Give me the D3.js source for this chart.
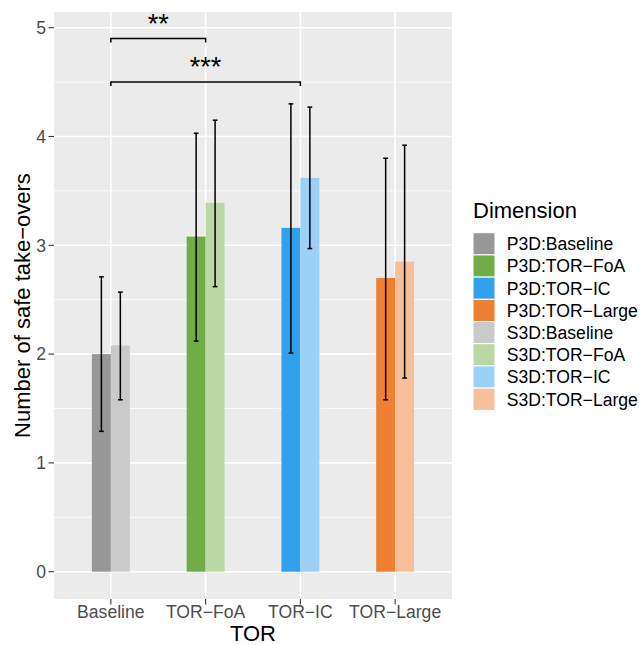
<!DOCTYPE html>
<html>
<head>
<meta charset="utf-8">
<script src="https://cdn.jsdelivr.net/npm/d3@7"></script>
<style>
  body { margin: 0; background: #fff; }
  text { font-family: "Liberation Sans", Arial, sans-serif; }
</style>
</head>
<body>
<script>
// ---- data ----
var categories = ["Baseline", "TOR\u2212FoA", "TOR\u2212IC", "TOR\u2212Large"];
var p3dMean = [2.00, 3.08, 3.16, 2.70];
var p3dLow  = [1.29, 2.12, 2.01, 1.58];
var p3dHigh = [2.71, 4.03, 4.30, 3.80];
var s3dMean = [2.08, 3.39, 3.62, 2.85];
var s3dLow  = [1.58, 2.62, 2.97, 1.78];
var s3dHigh = [2.57, 4.15, 4.27, 3.92];
var p3dColors = ["#979797", "#70ad47", "#31a1ed", "#ef7f33"];
var s3dColors = ["#cacaca", "#bad8a5", "#9bd0f7", "#f7bf99"];
var yTicks = [0, 1, 2, 3, 4, 5];
var brackets = [
  { from: 0, to: 1, y: 4.90, label: "**" },
  { from: 0, to: 2, y: 4.50, label: "***" }
];

var W = 641, H = 645;
var panel = { left: 54, right: 452, top: 12, bottom: 599 };

var svg = d3.select("body").append("svg")
  .attr("width", W)
  .attr("height", H);

var x = d3.scalePoint()
  .domain(categories)
  .range([panel.left, panel.right])
  .padding(0.6);
var step = x.step();

var y = d3.scaleLinear()
  .domain([0, 5])
  .range([571.7, 27.7]);

// panel background
svg.append("rect")
  .attr("x", panel.left).attr("y", panel.top)
  .attr("width", panel.right - panel.left)
  .attr("height", panel.bottom - panel.top)
  .attr("fill", "#ebebeb");

// minor grid
svg.selectAll(".minor")
  .data([0.5, 1.5, 2.5, 3.5, 4.5])
  .enter().append("line")
  .attr("x1", panel.left).attr("x2", panel.right)
  .attr("y1", function(d) { return y(d); })
  .attr("y2", function(d) { return y(d); })
  .attr("stroke", "#fff").attr("stroke-width", 0.8);

// major grid
svg.selectAll(".hmajor")
  .data(yTicks)
  .enter().append("line")
  .attr("x1", panel.left).attr("x2", panel.right)
  .attr("y1", function(d) { return y(d); })
  .attr("y2", function(d) { return y(d); })
  .attr("stroke", "#fff").attr("stroke-width", 1.6);

svg.selectAll(".vmajor")
  .data(categories)
  .enter().append("line")
  .attr("x1", function(d) { return x(d); })
  .attr("x2", function(d) { return x(d); })
  .attr("y1", panel.top).attr("y2", panel.bottom)
  .attr("stroke", "#fff").attr("stroke-width", 1.6);

// bars: build rows from the arrays
var rows = [];
categories.forEach(function(c, i) {
  rows.push({ cat: c, off: -0.1, mean: p3dMean[i], lo: p3dLow[i], hi: p3dHigh[i], color: p3dColors[i] });
  rows.push({ cat: c, off: 0.1, mean: s3dMean[i], lo: s3dLow[i], hi: s3dHigh[i], color: s3dColors[i] });
});

svg.selectAll(".bar")
  .data(rows)
  .enter().append("rect")
  .attr("x", function(d) { return x(d.cat) + (d.off - 0.1) * step; })
  .attr("width", 0.2 * step)
  .attr("y", function(d) { return y(d.mean); })
  .attr("height", function(d) { return y(0) - y(d.mean); })
  .attr("fill", function(d) { return d.color; });

// error bars
var capW = 0.05 * step;
var err = svg.selectAll(".err")
  .data(rows)
  .enter().append("g")
  .attr("stroke", "#000")
  .attr("stroke-width", 1.5);

err.append("line")
  .attr("x1", function(d) { return x(d.cat) + d.off * step; })
  .attr("x2", function(d) { return x(d.cat) + d.off * step; })
  .attr("y1", function(d) { return y(d.lo); })
  .attr("y2", function(d) { return y(d.hi); });
err.append("line")
  .attr("x1", function(d) { return x(d.cat) + d.off * step - capW / 2; })
  .attr("x2", function(d) { return x(d.cat) + d.off * step + capW / 2; })
  .attr("y1", function(d) { return y(d.hi); })
  .attr("y2", function(d) { return y(d.hi); });
err.append("line")
  .attr("x1", function(d) { return x(d.cat) + d.off * step - capW / 2; })
  .attr("x2", function(d) { return x(d.cat) + d.off * step + capW / 2; })
  .attr("y1", function(d) { return y(d.lo); })
  .attr("y2", function(d) { return y(d.lo); });

// significance brackets
var br = svg.selectAll(".bracket")
  .data(brackets)
  .enter().append("g");

br.append("path")
  .attr("d", function(d) {
    var x1 = x(categories[d.from]), x2 = x(categories[d.to]), yy = y(d.y);
    return "M" + x1 + "," + (yy + 4) + "V" + yy + "H" + x2 + "V" + (yy + 4);
  })
  .attr("fill", "none")
  .attr("stroke", "#000")
  .attr("stroke-width", 1.5);

br.append("text")
  .attr("x", function(d) { return (x(categories[d.from]) + x(categories[d.to])) / 2; })
  .attr("y", function(d) { return y(d.y) - 6; })
  .attr("text-anchor", "middle")
  .attr("font-size", 27)
  .attr("fill", "#000")
  .text(function(d) { return d.label; });

// y axis
var yAxis = svg.append("g");
yAxis.selectAll("line")
  .data(yTicks)
  .enter().append("line")
  .attr("x1", panel.left - 5.5).attr("x2", panel.left)
  .attr("y1", function(d) { return y(d); })
  .attr("y2", function(d) { return y(d); })
  .attr("stroke", "#333").attr("stroke-width", 1.1);
yAxis.selectAll("text")
  .data(yTicks)
  .enter().append("text")
  .attr("x", panel.left - 8)
  .attr("y", function(d) { return y(d); })
  .attr("dy", "0.36em")
  .attr("text-anchor", "end")
  .attr("font-size", 17.6)
  .attr("fill", "#4d4d4d")
  .text(function(d) { return d; });

// x axis
var xAxis = svg.append("g");
xAxis.selectAll("line")
  .data(categories)
  .enter().append("line")
  .attr("x1", function(d) { return x(d); })
  .attr("x2", function(d) { return x(d); })
  .attr("y1", panel.bottom).attr("y2", panel.bottom + 5.5)
  .attr("stroke", "#333").attr("stroke-width", 1.1);
xAxis.selectAll("text")
  .data(categories)
  .enter().append("text")
  .attr("x", function(d) { return x(d); })
  .attr("y", 618)
  .attr("text-anchor", "middle")
  .attr("font-size", 17.6)
  .attr("fill", "#4d4d4d")
  .text(function(d) { return d; });

// axis titles
svg.append("text")
  .attr("x", (panel.left + panel.right) / 2)
  .attr("y", 641)
  .attr("text-anchor", "middle")
  .attr("font-size", 22)
  .text("TOR");

svg.append("text")
  .attr("transform", "translate(30," + ((panel.top + panel.bottom) / 2) + ") rotate(-90)")
  .attr("text-anchor", "middle")
  .attr("font-size", 22)
  .text("Number of safe take\u2212overs");

// legend
var legendLabels = [];
var legendColors = [];
["P3D", "S3D"].forEach(function(g, gi) {
  categories.forEach(function(c, i) {
    legendLabels.push(g + ":" + c);
    legendColors.push(gi === 0 ? p3dColors[i] : s3dColors[i]);
  });
});

var legend = svg.append("g").attr("transform", "translate(473,0)");
legend.append("text")
  .attr("x", 0).attr("y", 218)
  .attr("font-size", 22)
  .text("Dimension");

var keyH = 22.2, keyTop = 232.7;
var items = legend.selectAll(".item")
  .data(legendLabels)
  .enter().append("g")
  .attr("transform", function(d, i) { return "translate(0," + (keyTop + i * keyH) + ")"; });

items.append("rect")
  .attr("width", 22).attr("height", keyH)
  .attr("fill", function(d, i) { return legendColors[i]; })
  .attr("stroke", "#fff").attr("stroke-width", 1);

items.append("text")
  .attr("x", 33.7)
  .attr("y", keyH / 2)
  .attr("dy", "0.36em")
  .attr("font-size", 17.6)
  .text(function(d) { return d; });
</script>
</body>
</html>
